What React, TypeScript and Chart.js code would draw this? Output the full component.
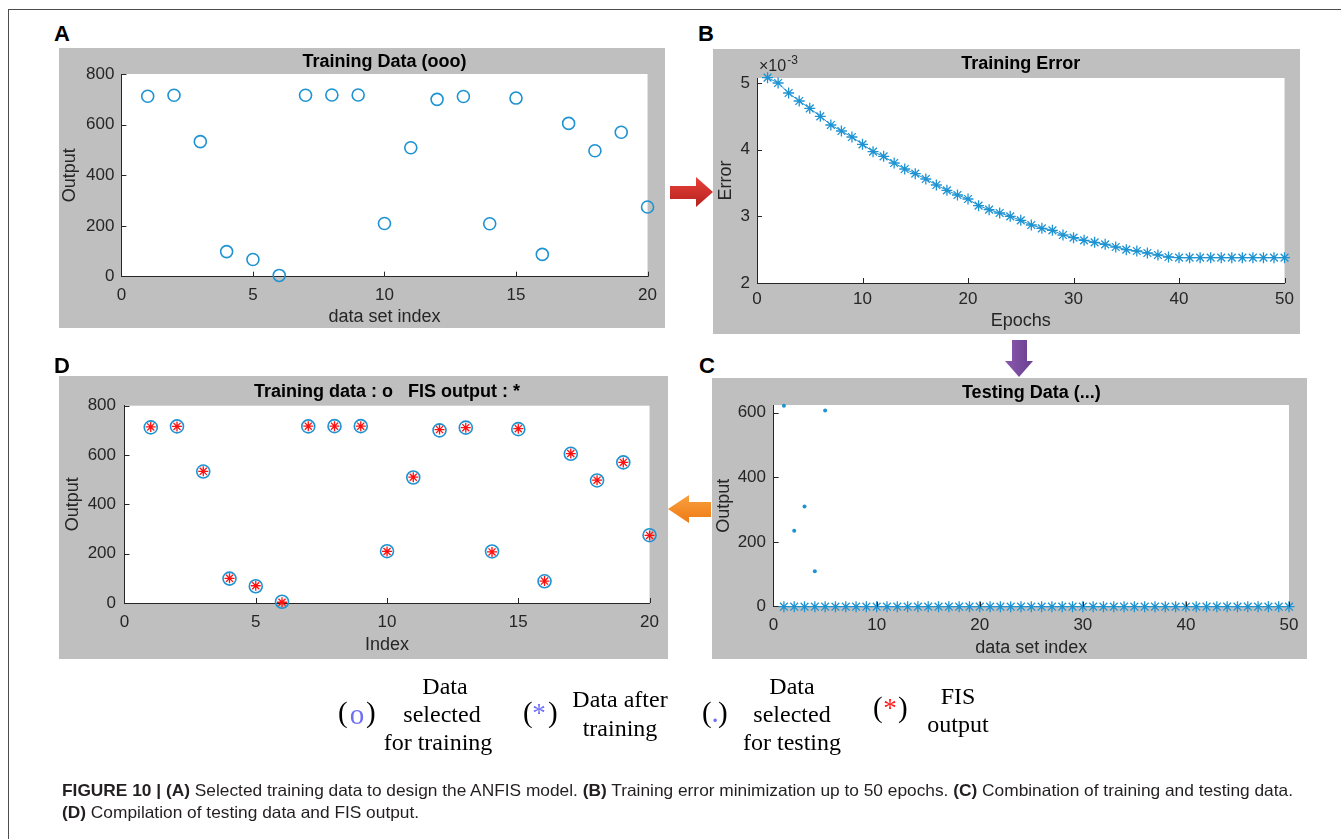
import React, { useEffect, useLayoutEffect, useRef, useState } from 'react';
import { Chart, registerables } from 'chart.js';

Chart.register(...registerables);

const SANS = "'Liberation Sans', Arial, Helvetica, sans-serif";
const SERIF = "'Liberation Serif', 'Times New Roman', serif";
const NARROW = "'Liberation Sans Narrow', 'Liberation Sans', Arial, sans-serif";

// ---------- data ----------
// Panel A / D : training data (index 1..20)
const trainingIndex = [1, 2, 3, 4, 5, 6, 7, 8, 9, 10, 11, 12, 13, 14, 15, 16, 17, 18, 19, 20];
const trainingOutput = [712, 716, 533, 99, 68, 5, 716, 717, 717, 210, 509, 700, 711, 209, 705, 88, 605, 497, 570, 275];
// Panel D : FIS output
const fisOutput = [714, 716, 534, 100, 70, 3, 717, 717, 717, 209, 510, 703, 711, 207, 707, 89, 606, 498, 570, 274];
// Panel B : training error (x 10^-3) per epoch
const epochs = [
  1, 2, 3, 4, 5, 6, 7, 8, 9, 10, 11, 12, 13, 14, 15, 16, 17, 18, 19, 20, 21, 22, 23, 24, 25,
  26, 27, 28, 29, 30, 31, 32, 33, 34, 35, 36, 37, 38, 39, 40, 41, 42, 43, 44, 45, 46, 47, 48, 49, 50,
];
const trainingError = [
  5.08, 5.0, 4.85, 4.73, 4.62, 4.5, 4.37, 4.28, 4.19, 4.08, 3.97, 3.9, 3.8, 3.71, 3.64, 3.56, 3.47, 3.39, 3.32, 3.26,
  3.16, 3.1, 3.05, 3.0, 2.94, 2.87, 2.82, 2.79, 2.72, 2.68, 2.64, 2.61, 2.58, 2.54, 2.5, 2.48, 2.45, 2.42, 2.39, 2.38,
  2.38, 2.38, 2.38, 2.38, 2.38, 2.38, 2.38, 2.38, 2.38, 2.38,
];
// Panel C : testing data
const testingIndex = [1, 2, 3, 4, 5];
const testingOutput = [622, 235, 310, 110, 607];
const testingFisOutput = [
  0, 0, 0, 0, 0, 0, 0, 0, 0, 0, 0, 0, 0, 0, 0, 0, 0, 0, 0, 0, 0, 0, 0, 0, 0,
  0, 0, 0, 0, 0, 0, 0, 0, 0, 0, 0, 0, 0, 0, 0, 0, 0, 0, 0, 0, 0, 0, 0, 0, 0,
];

// tick values
const ticksA_X = [0, 5, 10, 15, 20];
const ticksB_Y = [2, 3, 4, 5];
const ticks50_X = [0, 10, 20, 30, 40, 50];
const ticks800_Y = [0, 200, 400, 600, 800];
const ticks600_Y = [0, 200, 400, 600];

const GRAY = '#bfbfbf';
const BLUE = '#1e93d2';
const AXIS = '#262626';

const pts = (xs: number[], ys: number[]) => xs.map((x, i) => ({ x, y: ys[i] }));

const panelPlugin = {
  id: 'panelDecor',
  beforeDraw(chart: any) {
    const { ctx, chartArea: a, width, height } = chart;
    ctx.save();
    ctx.fillStyle = GRAY;
    ctx.fillRect(0, 0, width, height);
    ctx.fillStyle = '#ffffff';
    ctx.fillRect(a.left, a.top, a.right - a.left, a.bottom - a.top);
    ctx.restore();
  },
  afterDraw(chart: any, _args: any, opts: any) {
    const { ctx, chartArea: a } = chart;
    ctx.save();
    // title centred over plot area
    ctx.fillStyle = '#000';
    ctx.font = `bold 18px ${SANS}`;
    ctx.textAlign = 'center';
    ctx.textBaseline = 'middle';
    ctx.fillText(opts.title, (a.left + a.right) / 2, opts.titleY);
    // inward tick marks
    ctx.strokeStyle = AXIS;
    ctx.lineWidth = 1;
    const xs = chart.scales.x;
    const ys = chart.scales.y;
    xs.ticks.forEach((t: any) => {
      const px = Math.round(xs.getPixelForValue(t.value)) + 0.5;
      if (px > a.left + 2) {
        ctx.beginPath();
        ctx.moveTo(px, a.bottom);
        ctx.lineTo(px, a.bottom - 5);
        ctx.stroke();
      }
    });
    ys.ticks.forEach((t: any) => {
      const py = Math.round(ys.getPixelForValue(t.value)) + 0.5;
      if (py < a.bottom - 2) {
        ctx.beginPath();
        ctx.moveTo(a.left, py);
        ctx.lineTo(a.left + 5, py);
        ctx.stroke();
      }
    });
    if (opts.exponent) {
      ctx.fillStyle = AXIS;
      ctx.textAlign = 'left';
      ctx.font = `16px ${SANS}`;
      const x0 = a.left + 2;
      ctx.fillText('\u00d710', x0, a.top - 11);
      const w = ctx.measureText('\u00d710').width;
      ctx.font = `12px ${SANS}`;
      ctx.fillText('-3', x0 + w + 1, a.top - 17);
    }
    ctx.restore();
  },
};

type Spec = {
  left: number; top: number; width: number; height: number;
  title: string; titleY: number; exponent?: boolean;
  padTop: number; padRight: number; yWidth: number; xHeight: number;
  xTitle: string; yTitle: string; xTitlePad: number; yTitlePad: number;
  xTickPad: number; yTickPad: number;
  xMin: number; xMax: number; xTicks: number[];
  yMin: number; yMax: number; yTicks: number[];
  datasets: any[];
};

function Panel({ spec }: { spec: Spec }) {
  const ref = useRef<HTMLCanvasElement>(null);
  useEffect(() => {
    const s = spec;
    const tickFont = { family: SANS, size: 17 };
    const titleFont = { family: SANS, size: 18 };
    const chart = new Chart(ref.current as HTMLCanvasElement, {
      type: 'scatter',
      data: { datasets: s.datasets },
      plugins: [panelPlugin as any],
      options: {
        animation: false,
        responsive: false,
        devicePixelRatio: 1,
        events: [],
        layout: { padding: { top: s.padTop, right: s.padRight, left: 0, bottom: 0 } },
        plugins: {
          legend: { display: false },
          title: { display: false },
          tooltip: { enabled: false },
          panelDecor: { title: s.title, titleY: s.titleY, exponent: s.exponent },
        } as any,
        scales: {
          x: {
            type: 'linear',
            min: s.xMin,
            max: s.xMax,
            afterBuildTicks: (sc: any) => { sc.ticks = s.xTicks.map((v) => ({ value: v })); },
            afterFit: (sc: any) => { sc.height = s.xHeight; },
            ticks: { font: tickFont, color: AXIS, padding: s.xTickPad, maxRotation: 0, autoSkip: false },
            grid: { display: true, drawOnChartArea: false, drawTicks: false },
            border: { display: true, color: AXIS, width: 1 },
            title: { display: true, text: s.xTitle, font: titleFont, color: AXIS, padding: { top: 0, bottom: s.xTitlePad } },
          },
          y: {
            type: 'linear',
            min: s.yMin,
            max: s.yMax,
            afterBuildTicks: (sc: any) => { sc.ticks = s.yTicks.map((v) => ({ value: v })); },
            afterFit: (sc: any) => { sc.width = s.yWidth; },
            ticks: { font: tickFont, color: AXIS, padding: s.yTickPad, autoSkip: false },
            grid: { display: true, drawOnChartArea: false, drawTicks: false },
            border: { display: true, color: AXIS, width: 1 },
            title: { display: true, text: s.yTitle, font: titleFont, color: AXIS, padding: { top: s.yTitlePad, bottom: 0 } },
          },
        },
      } as any,
    });
    return () => chart.destroy();
  }, []);
  return (
    <div style={{ position: 'absolute', left: spec.left, top: spec.top, width: spec.width, height: spec.height }}>
      <canvas ref={ref} width={spec.width} height={spec.height} style={{ width: spec.width, height: spec.height, display: 'block' }} />
    </div>
  );
}

const specA: Spec = {
  left: 59, top: 48, width: 606, height: 280,
  title: 'Training Data (ooo)', titleY: 14,
  padTop: 26, padRight: 14.5, yWidth: 62.4, xHeight: 51.3,
  xTitle: 'data set index', yTitle: 'Output', xTitlePad: 0.2, yTitlePad: 0.2,
  xTickPad: 8, yTickPad: 7,
  xMin: 0, xMax: 20, xTicks: ticksA_X, yMin: 0, yMax: 800, yTicks: ticks800_Y,
  datasets: [
    {
      data: pts(trainingIndex, trainingOutput), pointStyle: 'circle', pointRadius: 6,
      pointBorderColor: BLUE, pointBackgroundColor: 'rgba(0,0,0,0)', pointBorderWidth: 1.6, showLine: false, clip: false,
    },
  ],
};

const specB: Spec = {
  left: 713, top: 49, width: 587, height: 285,
  title: 'Training Error', titleY: 15, exponent: true,
  padTop: 29, padRight: 14, yWidth: 44, xHeight: 51,
  xTitle: 'Epochs', yTitle: 'Error', xTitlePad: 2.2, yTitlePad: 2.2,
  xTickPad: 6, yTickPad: 7,
  xMin: 0, xMax: 50, xTicks: ticks50_X, yMin: 2, yMax: 5.075, yTicks: ticksB_Y,
  datasets: [
    {
      data: pts(epochs, trainingError), showLine: true, borderColor: BLUE, borderWidth: 1,
      pointStyle: 'star', pointRadius: 5.5, pointBorderColor: BLUE, pointBorderWidth: 1.3, clip: false,
    },
  ],
};

const specC: Spec = {
  left: 712, top: 378, width: 595, height: 281,
  title: 'Testing Data (...)', titleY: 15,
  padTop: 27, padRight: 18, yWidth: 61.6, xHeight: 52.3,
  xTitle: 'data set index', yTitle: 'Output', xTitlePad: 0.2, yTitlePad: 1.2,
  xTickPad: 8, yTickPad: 7.6,
  xMin: 0, xMax: 50, xTicks: ticks50_X, yMin: 0, yMax: 624, yTicks: ticks600_Y,
  datasets: [
    {
      data: pts(testingIndex, testingOutput), pointStyle: 'circle', pointRadius: 2,
      pointBackgroundColor: BLUE, pointBorderWidth: 0, showLine: false, clip: false,
    },
    {
      data: pts(epochs, testingFisOutput), pointStyle: 'star', pointRadius: 5.5,
      pointBorderColor: BLUE, pointBorderWidth: 1.3, showLine: false, clip: false,
    },
  ],
};

const specD: Spec = {
  left: 59, top: 376, width: 609, height: 283,
  title: 'Training data : o   FIS output : *', titleY: 16,
  padTop: 29.7, padRight: 16, yWidth: 65.5, xHeight: 56,
  xTitle: 'Index', yTitle: 'Output', xTitlePad: 3.2, yTitlePad: 2.8,
  xTickPad: 9, yTickPad: 8.5,
  xMin: 0, xMax: 20, xTicks: ticksA_X, yMin: 0, yMax: 800, yTicks: ticks800_Y,
  datasets: [
    {
      data: pts(trainingIndex, fisOutput), pointStyle: 'star', pointRadius: 5,
      pointBorderColor: '#ff1010', pointBorderWidth: 1.3, showLine: false, clip: false, order: 0,
    },
    {
      data: pts(trainingIndex, trainingOutput), pointStyle: 'circle', pointRadius: 6.5,
      pointBorderColor: BLUE, pointBackgroundColor: 'rgba(0,0,0,0)', pointBorderWidth: 1.6, showLine: false, clip: false, order: 1,
    },
  ],
};

function T(props: { x: number; y: number; size: number; family?: string; weight?: string; color?: string; align?: 'left' | 'center' | 'right'; children: any }) {
  const { x, y, size, family = SANS, weight = 'normal', color = '#000', align = 'left', children } = props;
  const tx = align === 'center' ? '-50%' : align === 'right' ? '-100%' : '0';
  return (
    <div
      style={{
        position: 'absolute', left: x, top: y, transform: `translate(${tx}, -50%)`,
        fontFamily: family, fontSize: size, fontWeight: weight as any, color, lineHeight: 1, whiteSpace: 'pre',
      }}
    >
      {children}
    </div>
  );
}

function Caption() {
  const r1 = useRef<HTMLSpanElement>(null);
  const [k, setK] = useState(1);
  useLayoutEffect(() => {
    if (r1.current) {
      const w = r1.current.getBoundingClientRect().width;
      if (w > 0) setK(1231 / w);
    }
  }, []);
  const line: React.CSSProperties = {
    position: 'absolute', left: 62, whiteSpace: 'nowrap', fontFamily: NARROW, fontSize: 16.5, lineHeight: '20px',
    color: '#231f20', transform: `scaleX(${k})`, transformOrigin: 'left center',
  };
  return (
    <>
      <div style={{ ...line, top: 780 }}>
        <span ref={r1}>
          <b>FIGURE 10 | (A)</b> Selected training data to design the ANFIS model. <b>(B)</b> Training error minimization up to 50 epochs.{' '}
          <b>(C)</b> Combination of training and testing data.
        </span>
      </div>
      <div style={{ ...line, top: 802 }}>
        <span>
          <b>(D)</b> Compilation of testing data and FIS output.
        </span>
      </div>
    </>
  );
}

export default function App() {
  const legendBlue = '#6f6ff5';
  return (
    <div style={{ position: 'absolute', left: 0, top: 0, width: 1341, height: 839, overflow: 'hidden', background: '#fff' }}>
      {/* frame */}
      <div style={{ position: 'absolute', left: 8, top: 9, width: 1333, height: 1, background: '#4d4d4d' }} />
      <div style={{ position: 'absolute', left: 8, top: 9, width: 1, height: 830, background: '#4d4d4d' }} />

      <Panel spec={specA} />
      <Panel spec={specB} />
      <Panel spec={specC} />
      <Panel spec={specD} />

      {/* panel letters */}
      <T x={54} y={34} size={22} weight="bold">A</T>
      <T x={698} y={34} size={22} weight="bold">B</T>
      <T x={699} y={366} size={22} weight="bold">C</T>
      <T x={54} y={366} size={22} weight="bold">D</T>

      {/* arrows */}
      <svg style={{ position: 'absolute', left: 0, top: 0 }} width={1341} height={839}>
        <defs>
          <linearGradient id="redG" x1="0" y1="0" x2="0" y2="1">
            <stop offset="0" stopColor="#e8413a" />
            <stop offset="1" stopColor="#b5221d" />
          </linearGradient>
          <linearGradient id="purG" x1="0" y1="0" x2="1" y2="0">
            <stop offset="0" stopColor="#8a5aae" />
            <stop offset="1" stopColor="#6a3d8f" />
          </linearGradient>
          <linearGradient id="orG" x1="0" y1="0" x2="0" y2="1">
            <stop offset="0" stopColor="#f9a040" />
            <stop offset="1" stopColor="#ee7a14" />
          </linearGradient>
        </defs>
        <polygon points="670,186 696,186 696,177 713,192 696,207 696,199 670,199" fill="url(#redG)" />
        <polygon points="1012,340 1027,340 1027,361 1033,361 1019,377 1005,361 1012,361" fill="url(#purG)" />
        <polygon points="711,502 689,502 689,495 668,509 689,523 689,517 711,517" fill="url(#orG)" />
      </svg>

      {/* legend */}
      <T x={338} y={712} size={29} family={SERIF}>(</T>
      <T x={357} y={714} size={29} family={SERIF} color={legendBlue} align="center">o</T>
      <T x={366} y={712} size={29} family={SERIF}>)</T>
      <T x={445} y={686} size={24} family={SERIF} align="center">Data</T>
      <T x={442} y={714} size={24} family={SERIF} align="center">selected</T>
      <T x={438} y={742} size={24} family={SERIF} align="center">for training</T>

      <T x={523} y={712} size={29} family={SERIF}>(</T>
      <T x={539} y={713} size={27} family={SERIF} color={legendBlue} align="center">*</T>
      <T x={548} y={712} size={29} family={SERIF}>)</T>
      <T x={620} y={699} size={24} family={SERIF} align="center">Data after</T>
      <T x={620} y={728} size={24} family={SERIF} align="center">training</T>

      <T x={702} y={712} size={29} family={SERIF}>(</T>
      <T x={715} y={712} size={29} family={SERIF} color={legendBlue} align="center">.</T>
      <T x={718} y={712} size={29} family={SERIF}>)</T>
      <T x={792} y={686} size={24} family={SERIF} align="center">Data</T>
      <T x={792} y={714} size={24} family={SERIF} align="center">selected</T>
      <T x={792} y={742} size={24} family={SERIF} align="center">for testing</T>

      <T x={873} y={707} size={29} family={SERIF}>(</T>
      <T x={890} y={708} size={27} family={SERIF} color="#ff1a1a" align="center">*</T>
      <T x={898} y={707} size={29} family={SERIF}>)</T>
      <T x={958} y={696} size={24} family={SERIF} align="center">FIS</T>
      <T x={958} y={724} size={24} family={SERIF} align="center">output</T>

      <Caption />
    </div>
  );
}
